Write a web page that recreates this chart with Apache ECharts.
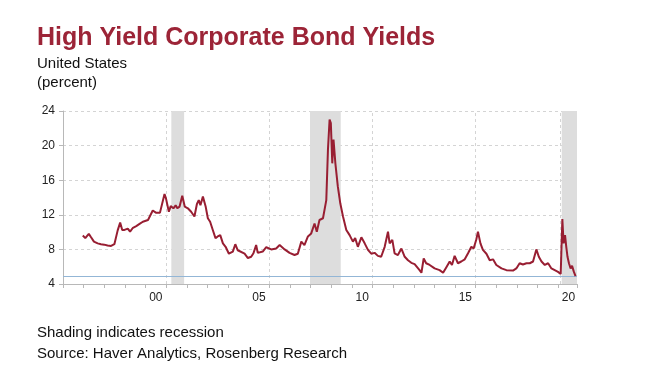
<!DOCTYPE html>
<html>
<head>
<meta charset="utf-8">
<title>High Yield Corporate Bond Yields</title>
<script src="https://cdn.jsdelivr.net/npm/echarts@6/dist/echarts.min.js"></script>
<style>
  html, body { margin: 0; padding: 0; background: #fff; }
  #chart { width: 667px; height: 376px; }
</style>
</head>
<body>
<div id="chart"></div>
<script>
// dates as decimal years, yields in percent
const dates = [
  1996.96, 1997.08, 1997.15, 1997.25, 1997.36, 1997.5, 1997.68, 1997.84, 1998.0, 1998.16,
  1998.33, 1998.49, 1998.57, 1998.65, 1998.77, 1998.87, 1998.98, 1999.14, 1999.25, 1999.39,
  1999.55, 1999.71, 1999.87, 1999.96, 2000.12, 2000.35, 2000.5, 2000.7, 2000.92, 2000.99,
  2001.13, 2001.22, 2001.35, 2001.46, 2001.54, 2001.65, 2001.78, 2001.9, 2002.05, 2002.21,
  2002.37, 2002.49, 2002.58, 2002.66, 2002.78, 2002.91, 2003.02, 2003.13, 2003.26, 2003.39,
  2003.5, 2003.62, 2003.75, 2003.88, 2004.04, 2004.23, 2004.35, 2004.47, 2004.56, 2004.8,
  2004.96, 2005.12, 2005.23, 2005.36, 2005.44, 2005.68, 2005.85, 2006.09, 2006.33, 2006.5,
  2006.74, 2006.98, 2007.22, 2007.38, 2007.55, 2007.7, 2007.87, 2008.03, 2008.19, 2008.3,
  2008.43, 2008.6, 2008.68, 2008.76, 2008.84, 2008.92, 2008.98, 2009.05, 2009.11, 2009.2,
  2009.32, 2009.44, 2009.57, 2009.73, 2009.89, 2010.05, 2010.16, 2010.29, 2010.46, 2010.62,
  2010.78, 2010.94, 2011.1, 2011.26, 2011.42, 2011.59, 2011.75, 2011.83, 2011.96, 2012.07,
  2012.23, 2012.4, 2012.56, 2012.72, 2012.88, 2013.04, 2013.28, 2013.37, 2013.48, 2013.6,
  2013.77, 2014.01, 2014.25, 2014.42, 2014.58, 2014.74, 2014.85, 2014.98, 2015.14, 2015.3,
  2015.47, 2015.63, 2015.79, 2015.9, 2016.03, 2016.11, 2016.23, 2016.35, 2016.52, 2016.68,
  2016.84, 2017.0, 2017.25, 2017.49, 2017.81, 2017.97, 2018.13, 2018.29, 2018.46, 2018.62,
  2018.78, 2018.94, 2019.06, 2019.19, 2019.35, 2019.51, 2019.67, 2019.83, 2019.99, 2020.12,
  2020.2, 2020.26, 2020.33, 2020.39, 2020.45, 2020.52, 2020.6, 2020.67, 2020.76, 2020.84
]
const yields = [
  9.6, 9.3, 9.15, 9.8, 9.4, 8.9, 8.7, 8.6, 8.55, 8.45,
  8.4, 8.6, 8.7, 10.2, 11.1, 10.25, 10.25, 10.4, 10.05, 10.5,
  10.7, 10.95, 11.2, 11.0, 11.4, 12.5, 12.25, 12.25, 14.4, 13.9,
  12.35, 13.0, 12.75, 13.1, 12.75, 12.95, 14.2, 12.95, 12.75, 12.35,
  11.8, 13.25, 13.7, 13.1, 14.1, 13.0, 11.6, 11.2, 10.25, 9.3,
  9.5, 9.65, 8.7, 8.3, 7.5, 7.75, 8.6, 7.9, 7.9, 7.5,
  7.0, 7.15, 7.55, 8.5, 7.6, 7.75, 8.25, 8.0, 8.1, 8.5,
  8.0, 7.6, 7.35, 7.5, 8.9, 8.5, 9.5, 9.85, 11.0, 10.05,
  11.4, 11.6, 11.7, 13.7, 19.5, 23.0, 22.6, 17.95, 20.7, 17.95,
  15.25, 13.3, 11.8, 10.25, 9.65, 8.9, 9.3, 8.3, 9.4, 8.7,
  7.95, 7.5, 7.6, 7.25, 7.15, 8.3, 10.05, 8.7, 9.1, 7.55,
  7.35, 8.1, 7.15, 6.75, 6.45, 6.3, 5.6, 5.3, 6.95, 6.4,
  6.2, 5.8, 5.6, 5.3, 5.95, 6.6, 6.2, 7.25, 6.4, 6.6,
  6.85, 7.55, 8.3, 8.1, 9.15, 10.05, 8.7, 7.95, 7.5, 6.75,
  6.85, 6.2, 5.8, 5.6, 5.55, 5.8, 6.4, 6.25, 6.4, 6.4,
  6.6, 8.0, 7.15, 6.6, 6.2, 6.4, 5.8, 5.6, 5.4, 5.15,
  11.5, 8.7, 9.65, 8.3, 7.15, 6.4, 5.8, 6.1, 5.4, 4.9
]

// recessions as [start, end] in decimal years
const recessions = [[2001.25, 2001.87], [2007.97, 2009.46], [2020.17, 2020.91]]

const yTicks = { min: 4, max: 24, step: 4 }
const xLabels = ['00', '05', '10', '15', '20']
const xLabelAt = [2000.5, 2005.5, 2010.5, 2015.5, 2020.5]
const xGridAt = [2001, 2006, 2011, 2016, 2020.1]
const refLevel = 4.95

const xMin = 1996
const xMax = 2020.91
const red = '#981e32'
const font = 'Liberation Sans, Arial, sans-serif'

const chart = echarts.init(document.getElementById('chart'))

const option = {
  animation: false,
  title: [
    {
      text: 'High Yield Corporate Bond Yields',
      left: 37, top: 23, padding: 0,
      textStyle: { color: '#9c2437', fontSize: 25, fontWeight: 'bold', fontFamily: font, lineHeight: 30 }
    },
    {
      text: 'United States\n(percent)',
      left: 37, top: 54, padding: 0,
      textStyle: { color: '#111', fontSize: 15, fontWeight: 'normal', fontFamily: font, lineHeight: 19 }
    },
    {
      text: 'Shading indicates recession\nSource: Haver Analytics, Rosenberg Research',
      left: 37, top: 322, padding: 0,
      textStyle: { color: '#111', fontSize: 15, fontWeight: 'normal', fontFamily: font, lineHeight: 21 }
    }
  ],
  grid: { left: 63, right: 90, top: 111, bottom: 92 },
  xAxis: [
    {
      // yearly ticks
      type: 'value', position: 'bottom', min: xMin, max: xMax, interval: 1,
      axisLine: { lineStyle: { color: '#b8b8b8' } },
      axisTick: { length: 4, lineStyle: { color: '#b8b8b8' } },
      axisLabel: { show: false },
      splitLine: { show: false }
    },
    {
      // labels centred in the year
      type: 'value', position: 'bottom', min: xMin, max: xMax, interval: 0.5,
      axisLine: { show: false },
      axisTick: { show: false },
      splitLine: { show: false },
      axisLabel: {
        margin: 8,
        color: '#222', fontSize: 12, fontFamily: font,
        formatter: v => {
          const i = xLabelAt.findIndex(p => Math.abs(p - v) < 0.01)
          return i >= 0 ? xLabels[i] : ''
        }
      }
    }
  ],
  yAxis: {
    type: 'value', min: yTicks.min, max: yTicks.max, interval: yTicks.step,
    axisLine: { show: true, lineStyle: { color: '#b8b8b8' } },
    axisTick: { show: true, length: 4, lineStyle: { color: '#b8b8b8' } },
    axisLabel: { margin: 8, color: '#222', fontSize: 12, fontFamily: font },
    splitLine: { lineStyle: { color: '#d4d4d4', type: [3, 3] } }
  },
  series: [
    {
      type: 'line',
      xAxisIndex: 0,
      data: dates.map((d, i) => [d, yields[i]]),
      showSymbol: false,
      z: 3,
      lineStyle: { color: red, width: 2 },
      markArea: {
        silent: true,
        z: 1,
        itemStyle: { color: '#dddddd' },
        data: recessions.map(r => [{ xAxis: r[0] }, { xAxis: r[1] }])
      },
      markLine: {
        silent: true,
        z: 1,
        symbol: 'none',
        label: { show: false },
        data: xGridAt.map(x => ({ xAxis: x, lineStyle: { color: '#d4d4d4', type: [3, 3], width: 1 } }))
          .concat([{ yAxis: refLevel, lineStyle: { color: '#93b6d6', type: 'solid', width: 1.2 } }])
      }
    }
  ]
}

chart.setOption(option)
</script>
</body>
</html>
